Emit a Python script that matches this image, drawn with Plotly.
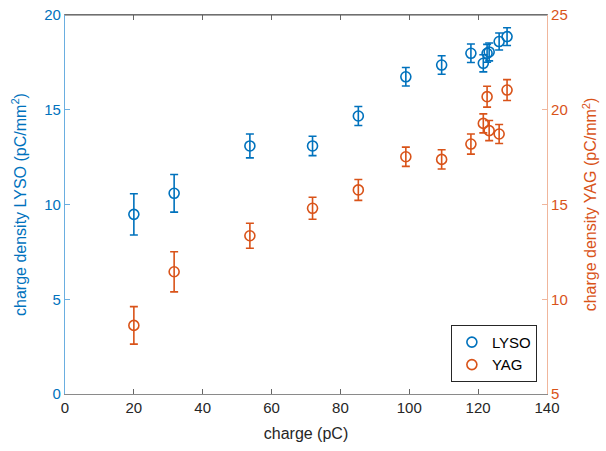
import plotly.graph_objects as go

charge = [20.0, 31.7, 53.7, 71.9, 85.2, 99.0, 109.4, 117.9, 121.5, 122.6, 123.2, 126.1, 128.4]
lyso = [9.48, 10.59, 13.09, 13.09, 14.67, 16.74, 17.36, 17.98, 17.45, 17.98, 18.05, 18.6, 18.86]
lyso_err = [1.09, 0.99, 0.63, 0.51, 0.5, 0.49, 0.49, 0.49, 0.45, 0.47, 0.47, 0.45, 0.47]
yag = [8.62, 11.45, 13.35, 14.8, 15.77, 17.52, 17.38, 18.19, 19.28, 20.69, 18.9, 18.72, 21.04]
yag_err = [0.99, 1.06, 0.66, 0.58, 0.55, 0.51, 0.51, 0.53, 0.5, 0.55, 0.53, 0.5, 0.55]

BLUE = "#0072BD"
ORANGE = "#D95319"
FONT = "Liberation Sans, Arial, sans-serif"

fig = go.Figure()
fig.add_trace(go.Scatter(
    x=charge, y=lyso, name="LYSO", mode="markers",
    marker=dict(symbol="circle-open", size=10, color=BLUE, line=dict(width=1.6, color=BLUE)),
    error_y=dict(type="data", array=lyso_err, color=BLUE, thickness=1.6, width=4),
    yaxis="y"))
fig.add_trace(go.Scatter(
    x=charge, y=yag, name="YAG", mode="markers",
    marker=dict(symbol="circle-open", size=10, color=ORANGE, line=dict(width=1.6, color=ORANGE)),
    error_y=dict(type="data", array=yag_err, color=ORANGE, thickness=1.6, width=4),
    yaxis="y2"))

fig.add_shape(type="line", xref="paper", yref="paper", x0=0, x1=1, y0=1, y1=1,
              line=dict(color="#555555", width=1.2))

fig.update_layout(
    width=606, height=451,
    margin=dict(l=65, r=59, t=15, b=57),
    paper_bgcolor="white", plot_bgcolor="white",
    font=dict(family=FONT, size=15, color="#262626"),
    showlegend=True,
    legend=dict(x=0.979, y=0.032, xanchor="right", yanchor="bottom",
                bordercolor="#262626", borderwidth=1, bgcolor="white",
                font=dict(size=15, color="#000000"), tracegroupgap=0),
    xaxis=dict(range=[0, 140], dtick=20, showgrid=False, zeroline=False, automargin=False,
               showline=True, linecolor="#8a8a8a", linewidth=1.2, mirror="ticks",
               ticks="inside", ticklen=5, tickcolor="#666666",
               tickfont=dict(size=15, color="#262626"),
               title=dict(text="charge (pC)", font=dict(size=16, color="#262626"), standoff=12)),
    yaxis=dict(range=[0, 20], dtick=5, showgrid=False, zeroline=False, automargin=False,
               showline=True, linecolor="#6aaee0", linewidth=1.2,
               ticks="inside", ticklen=5, tickcolor="#6aaee0",
               tickfont=dict(size=15, color=BLUE),
               title=dict(text="charge density LYSO (pC/mm<sup>2</sup>)",
                          font=dict(size=16, color=BLUE), standoff=13)),
    yaxis2=dict(range=[5, 25], dtick=5, overlaying="y", side="right", automargin=False,
                showgrid=False, zeroline=False,
                showline=True, linecolor="#f0b69c", linewidth=1.2,
                ticks="inside", ticklen=5, tickcolor="#f0b69c",
                tickfont=dict(size=15, color=ORANGE),
                title=dict(text="charge density YAG (pC/mm<sup>2</sup>)",
                           font=dict(size=16, color=ORANGE), standoff=18)),
)

fig.write_html("out.html", config={"displayModeBar": False},
               post_script="document.body.style.margin='0';")
